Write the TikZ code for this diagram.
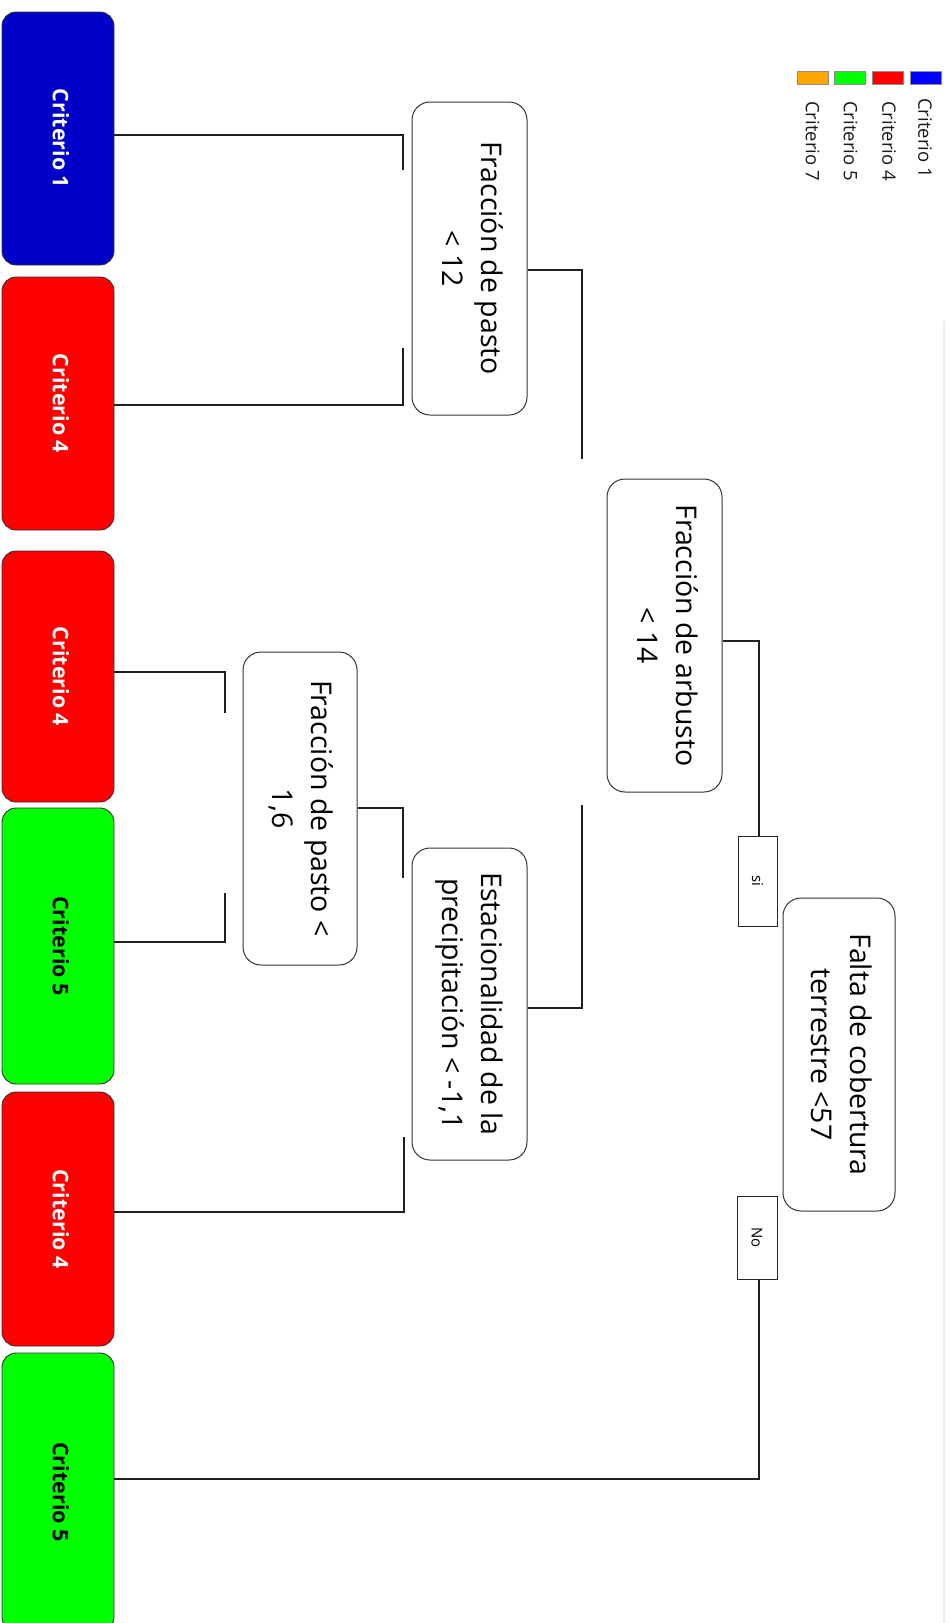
\documentclass[tikz,border=0pt]{standalone}
\usepackage{fontspec}
\setmainfont{Open Sans}
\definecolor{critblue}{HTML}{0000C8}
\definecolor{critred}{HTML}{FF0000}
\definecolor{critgreen}{HTML}{00FF00}
\definecolor{legblue}{HTML}{0000FF}
\definecolor{legorange}{HTML}{FFA500}
\newcommand\vtext[1]{\rotatebox{-90}{\begin{tabular}{@{}c@{}}#1\end{tabular}}}
\begin{document}
\begin{tikzpicture}[x=1pt,y=-1pt,
  crit/.style={draw=black!80, line width=0.9pt, rounded corners=14pt, inner sep=0pt,
    minimum width=112pt, font=\fontsize{21.5}{26}\selectfont\bfseries},
  cond/.style={draw=black!80, line width=1pt, rounded corners=18pt, fill=white, inner sep=0pt,
    minimum width=115pt, minimum height=313pt, font=\fontsize{28.5}{39}\selectfont},
  tag/.style={draw=black!85, line width=1pt, fill=white, inner sep=0pt, minimum width=39pt,
    font=\fontsize{15}{18}\selectfont},
  conn/.style={draw=black!88, line width=2.5pt},
  swatch/.style={draw=black!45, line width=0.8pt, minimum width=31pt, minimum height=13pt, inner sep=0pt},
  legtext/.style={anchor=north, inner sep=0pt, text=black!90, font=\fontsize{18.5}{22}\selectfont}
]
\useasboundingbox (0,0) rectangle (950,1623);

% faint page edge
\draw[black!8, line width=1.5pt] (944,321) -- (944,1623);

% leaf boxes
\node[crit, fill=critblue, text=white, minimum height=253pt] (c1) at (58,138.5) {\vtext{Criterio 1}};
\node[crit, fill=critred, text=white, minimum height=253pt] (c4a) at (58,403.5) {\vtext{Criterio 4}};
\node[crit, fill=critred, text=white, minimum height=251pt] (c4b) at (58,676.5) {\vtext{Criterio 4}};
\node[crit, fill=critgreen, text=black, minimum height=276pt] (c5a) at (58,946) {\vtext{Criterio 5}};
\node[crit, fill=critred, text=white, minimum height=254pt] (c4c) at (58,1219) {\vtext{Criterio 4}};
\node[crit, fill=critgreen, text=black, minimum height=278pt] (c5b) at (58,1492) {\vtext{Criterio 5}};

% decision boxes
\node[cond] (d1) at (469.5,258.5) {\vtext{Fracción de pasto\\< 12}};
\node[cond] (d2) at (664.5,635.5) {\vtext{Fracción de arbusto\\< 14}};
\node[cond, minimum width=114pt] (d3) at (300,808.5) {\vtext{Fracción de pasto <\\1,6}};
\node[cond, minimum height=312pt] (d4) at (469.5,1004) {\vtext{Estacionalidad de la\\precipitación < -1,1}};
\node[cond, minimum width=112pt] (d5) at (839,1054.5) {\vtext{Falta de cobertura\\terrestre <57}};

% branch labels
\node[tag, minimum height=90pt] (si) at (757.5,881) {\rotatebox{-90}{si}};
\node[tag, minimum width=40pt, minimum height=83pt] (no) at (757,1237.5) {\rotatebox{-90}{No}};

% connector bends and open ends
\coordinate (k1) at (403,170);  \coordinate (e1) at (403,135);
\coordinate (k2) at (403,348);  \coordinate (e2) at (403,405);
\coordinate (e3) at (582,270);  \coordinate (k3) at (582,459);
\coordinate (k4) at (582,805);  \coordinate (e4) at (582,1008);
\coordinate (e5) at (759,641);
\coordinate (e6) at (759,1479);
\coordinate (k7) at (225,713);  \coordinate (e7) at (225,672);
\coordinate (k8) at (225,893);  \coordinate (e8) at (225,942);
\coordinate (e9) at (403,808);  \coordinate (k9) at (403,878);
\coordinate (k10) at (404,1137); \coordinate (e10) at (404,1212);

% connectors
\draw[conn] (k1) -- (e1) -- (c1.east |- e1);
\draw[conn] (k2) -- (e2) -- (c4a.east |- e2);
\draw[conn] (d1.east |- e3) -- (e3) -- (k3);
\draw[conn] (k4) -- (e4) -- (d4.east |- e4);
\draw[conn] (d2.east |- e5) -- (e5) -- (e5 |- si.north);
\draw[conn] (e6 |- no.south) -- (e6) -- (c5b.east |- e6);
\draw[conn] (k7) -- (e7) -- (c4b.east |- e7);
\draw[conn] (k8) -- (e8) -- (c5a.east |- e8);
\draw[conn] (d3.east |- e9) -- (e9) -- (k9);
\draw[conn] (k10) -- (e10) -- (c4c.east |- e10);

% legend
\node[swatch, fill=legorange] (sw7) at (812.5,77.5) {};
\node[swatch, fill=critgreen] (sw5) at (850,77.5) {};
\node[swatch, fill=critred] (sw4) at (887.5,77.5) {};
\node[swatch, fill=legblue] (sw1) at (926,77.5) {};
\node[legtext] (l7) at (812.5,101) {\rotatebox{-90}{Criterio 7}};
\node[legtext] (l5) at (850.5,101) {\rotatebox{-90}{Criterio 5}};
\node[legtext] (l4) at (889,101) {\rotatebox{-90}{Criterio 4}};
\node[legtext] (l1) at (925,98) {\rotatebox{-90}{Criterio 1}};
\end{tikzpicture}
\end{document}
